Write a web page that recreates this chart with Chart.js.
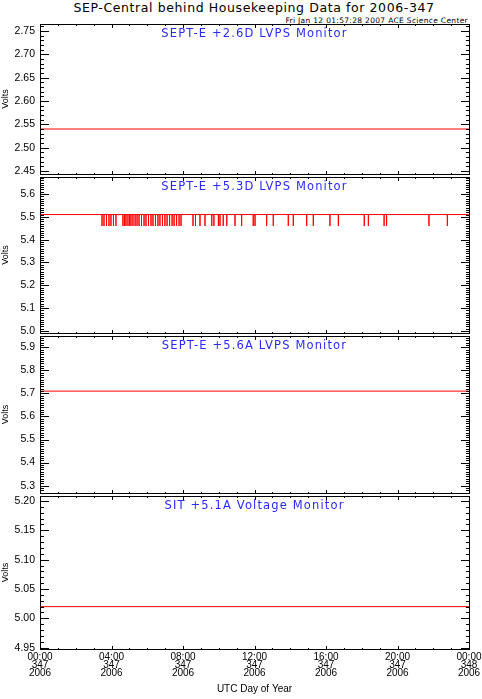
<!DOCTYPE html>
<html>
<head>
<meta charset="utf-8">
<script src="https://cdn.jsdelivr.net/npm/chart.js@4.4.1/dist/chart.umd.min.js"></script>
<style>
  html, body { margin: 0; padding: 0; background: #fff; }
  #page { position: relative; width: 482px; height: 699px; overflow: hidden; background: #fff; }
  #page canvas { position: absolute; left: 0; }
  .txt { position: absolute; white-space: nowrap; color: #000; font-family: "DejaVu Sans", sans-serif; }
  #main-title { left: 0; width: 508px; top: 0.5px; text-align: center; font-size: 12.5px; line-height: 14px; letter-spacing: 0.6px; }
  #sub-title { right: 14px; top: 15.5px; font-size: 7.5px; line-height: 9px; letter-spacing: 0.32px; }
</style>
</head>
<body>
<div id="page">
  <div id="main-title" class="txt">SEP-Central behind Housekeeping Data for 2006-347</div>
  <div id="sub-title" class="txt">Fri Jan 12 01:57:28 2007 ACE Science Center</div>
  <canvas id="p1"></canvas>
  <canvas id="p2"></canvas>
  <canvas id="p3"></canvas>
  <canvas id="p4"></canvas>
</div>
<script>
  // ── Daten (Stunden seit 00:00 UTC, Tag 347/2006) ──
  const xTickHours = [0, 4, 8, 12, 16, 20, 24];
  const xTickLabels = [
    ['00:00', '347', '2006'], ['04:00', '347', '2006'], ['08:00', '347', '2006'],
    ['12:00', '347', '2006'], ['16:00', '347', '2006'], ['20:00', '347', '2006'],
    ['00:00', '348', '2006']
  ];
  const panelTitles = [
    'SEPT-E +2.6D LVPS Monitor',
    'SEPT-E +5.3D LVPS Monitor',
    'SEPT-E +5.6A LVPS Monitor',
    'SIT +5.1A Voltage Monitor'
  ];

  const yTicks26 = [2.45, 2.50, 2.55, 2.60, 2.65, 2.70, 2.75];
  const yTicks53 = [5.0, 5.1, 5.2, 5.3, 5.4, 5.5, 5.6];
  const yTicks56 = [5.3, 5.4, 5.5, 5.6, 5.7, 5.8, 5.9];
  const yTicks51 = [4.95, 5.00, 5.05, 5.10, 5.15, 5.20];

  const yRange26 = [2.4436, 2.765];
  const yRange53 = [4.991, 5.6745];
  const yRange56 = [5.268, 5.949];
  const yRange51 = [4.9478, 5.2085];

  const volts26 = 2.54;
  const volts53 = 5.51;
  const dip53 = 5.46;
  // Zeitpunkte der kurzen Einbrüche auf 5.46 V
  const dipHours53 = [
    3.47, 3.58, 3.72, 3.86, 3.97, 4.11, 4.25, 4.64, 4.73, 4.81, 4.92, 5.01,
    5.09, 5.20, 5.32, 5.43, 5.54, 5.68, 5.82, 5.93, 6.07, 6.21, 6.32, 6.46,
    6.60, 6.71, 6.85, 6.99, 7.11, 7.25, 7.39, 7.50, 7.64, 7.78, 7.89, 8.56,
    8.70, 8.95, 9.23, 9.61, 9.73, 9.98, 10.07, 10.25, 10.45, 10.91, 11.28,
    11.93, 12.03, 12.68, 13.05, 13.89, 14.17, 14.92, 15.29, 16.22, 16.69,
    18.14, 18.37, 19.25, 19.39, 21.76, 22.79
  ];
  const volts56 = 5.71;
  const volts51 = 5.02;

  const BLUE = '#2a2aff';
  const RED = '#ff0000';
  Chart.defaults.font.family = '"Liberation Sans", Arial, sans-serif';
  Chart.defaults.color = '#000';

  function flat(v) {
    return [{ x: xTickHours[0], y: v }, { x: xTickHours[xTickHours.length - 1], y: v }];
  }

  function withDips(level, dip, hours) {
    const pts = [{ x: xTickHours[0], y: level }];
    hours.forEach(h => {
      pts.push({ x: h, y: level }, { x: h, y: dip }, { x: h, y: level });
    });
    pts.push({ x: xTickHours[xTickHours.length - 1], y: level });
    return pts;
  }

  // IDL-Rahmen: Box mit nach innen zeigenden Haupt-/Nebenstrichen auf allen Seiten
  const idlFrame = {
    id: 'idlFrame',
    afterDatasetsDraw(chart, args, o) {
      const { ctx, chartArea: a, scales: { x, y } } = chart;
      const L = Math.round(a.left), R = Math.round(a.right);
      const T = Math.round(a.top), B = Math.round(a.bottom);
      ctx.save();
      ctx.fillStyle = '#000';
      // Rahmen
      ctx.fillRect(L, T, R - L + 1, 1);
      ctx.fillRect(L, B, R - L + 1, 1);
      ctx.fillRect(L, T, 1, B - T + 1);
      ctx.fillRect(R, T, 1, B - T + 1);

      // y-Striche links und rechts
      const step = o.yMinor;
      const n0 = Math.ceil(y.min / step - 1e-6), n1 = Math.floor(y.max / step + 1e-6);
      for (let n = n0; n <= n1; n++) {
        const v = n * step;
        const major = o.yTicks.some(t => Math.abs(t - v) < step / 10);
        const len = major ? 9 : 4;
        const py = Math.round(y.getPixelForValue(v));
        ctx.fillRect(L, py, len, 1);
        ctx.fillRect(R - len + 1, py, len, 1);
      }
      // x-Striche oben und unten (stündlich, groß alle 4 h)
      for (let h = xTickHours[0]; h <= xTickHours[xTickHours.length - 1]; h++) {
        const len = xTickHours.includes(h) ? 4 : 2;
        const px = Math.round(x.getPixelForValue(h));
        ctx.fillRect(px, B - len + 1, 1, len);
        ctx.fillRect(px, T, 1, len);
      }

      ctx.fillStyle = BLUE;
      ctx.font = '11.5px "DejaVu Sans", sans-serif';
      ctx.textAlign = 'center';
      ctx.textBaseline = 'middle';
      if ('letterSpacing' in ctx) ctx.letterSpacing = '1.15px';
      ctx.fillText(o.title, (a.left + a.right) / 2, a.top + 10.5);
      ctx.restore();
    }
  };

  const panels = [
    { id: 'p1', top: 24, bottom: 174, ticks: yTicks26, range: yRange26, dec: 2, title: panelTitles[0], data: flat(volts26) },
    { id: 'p2', top: 177, bottom: 333, ticks: yTicks53, range: yRange53, dec: 1, title: panelTitles[1], data: withDips(volts53, dip53, dipHours53) },
    { id: 'p3', top: 336, bottom: 493, ticks: yTicks56, range: yRange56, dec: 1, title: panelTitles[2], data: flat(volts56) },
    { id: 'p4', top: 496, bottom: 649, ticks: yTicks51, range: yRange51, dec: 2, title: panelTitles[3], data: flat(volts51) }
  ];

  const PAGE_H = 699, RIGHT = 469, AXIS_W = 40;

  panels.forEach((p, i) => {
    const isLast = i === panels.length - 1;
    const padTop = 10, padBot = isLast ? 0 : 10;
    const canvasTop = p.top - padTop;
    const canvasBottom = isLast ? PAGE_H : p.bottom + padBot;
    const canvas = document.getElementById(p.id);
    canvas.width = 482;
    canvas.height = canvasBottom - canvasTop;
    canvas.style.top = canvasTop + 'px';

    new Chart(canvas, {
      type: 'line',
      data: {
        datasets: [{
          data: p.data,
          borderColor: RED,
          borderWidth: 1,
          pointRadius: 0,
          tension: 0,
          fill: false
        }]
      },
      options: {
        responsive: false,
        animation: false,
        devicePixelRatio: 1,
        layout: { padding: { top: padTop, bottom: padBot, left: 0, right: 482 - RIGHT } },
        plugins: {
          legend: { display: false },
          tooltip: { enabled: false },
          idlFrame: { yTicks: p.ticks, yMinor: 0.01, title: p.title }
        },
        scales: {
          x: {
            type: 'linear',
            display: isLast,
            min: xTickHours[0],
            max: xTickHours[xTickHours.length - 1],
            afterBuildTicks: s => { s.ticks = xTickHours.map(v => ({ value: v })); },
            afterFit: s => {
              if (isLast) s.height = PAGE_H - p.bottom;
              s.paddingLeft = 0; s.paddingRight = 0;
            },
            grid: { display: false, drawTicks: false },
            border: { display: false },
            ticks: {
              autoSkip: false, maxRotation: 0, minRotation: 0, padding: 4,
              font: { size: 10, lineHeight: 0.8 },
              callback: (v, idx) => xTickLabels[idx]
            },
            title: {
              display: true, text: 'UTC Day of Year',
              font: { size: 10, lineHeight: 1.2 },
              padding: { top: 0, bottom: 4 }
            }
          },
          y: {
            type: 'linear',
            min: p.range[0],
            max: p.range[1],
            afterBuildTicks: s => { s.ticks = p.ticks.map(v => ({ value: v })); },
            afterFit: s => { s.width = AXIS_W; s.paddingTop = 0; s.paddingBottom = 0; },
            grid: { display: false, drawTicks: false },
            border: { display: false },
            ticks: {
              padding: 5,
              font: { size: 10.5 },
              callback: v => Number(v).toFixed(p.dec)
            },
            title: {
              display: true, text: 'Volts',
              font: { size: 9, lineHeight: 1.2 },
              padding: 0
            }
          }
        }
      },
      plugins: [idlFrame]
    });
  });
</script>
</body>
</html>
